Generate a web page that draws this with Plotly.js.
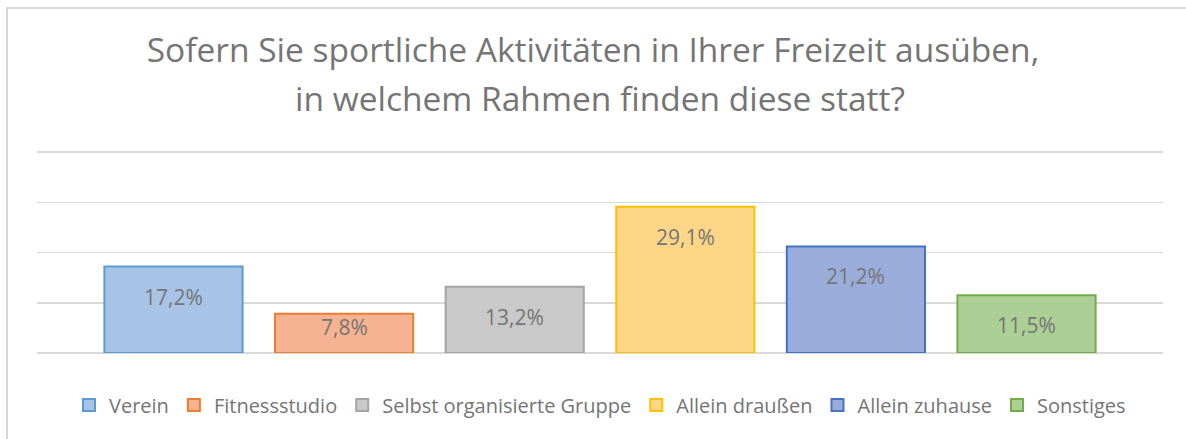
<!DOCTYPE html>
<html>
<head>
<meta charset="utf-8">
<script src="https://cdn.plot.ly/plotly-3.0.1.min.js"></script>
<style>
  html, body { margin: 0; padding: 0; background: #fff; overflow: hidden; }
  #chart { position: absolute; left: 0; top: 0; width: 1186px; height: 439px; }
  #frame { position: absolute; left: 6px; top: 7px; width: 1300px; height: 600px;
           border-left: 2px solid #d9d9d9; border-top: 2px solid #d9d9d9; pointer-events: none; }
</style>
</head>
<body>
<div id="chart"></div>
<div id="frame"></div>
<script>
const titleLine1 = 'Sofern Sie sportliche Aktivitäten in Ihrer Freizeit ausüben,';
const titleLine2 = 'in welchem Rahmen finden diese statt?';
const categories = ['Verein', 'Fitnessstudio', 'Selbst organisierte Gruppe', 'Allein draußen', 'Allein zuhause', 'Sonstiges'];
const values = [17.2, 7.8, 13.2, 29.1, 21.2, 11.5];
const gridValues = [0, 10, 20, 30, 40];
const fillColors = ['#a7c4e7', '#f5b391', '#c9c9c9', '#fed687', '#9aacda', '#accf96'];
const lineColors = ['#5b9bd5', '#ed7d31', '#a5a5a5', '#ffc000', '#4472c4', '#70ad47'];

const textColor = '#757575';
const fontFamily = '"Open Sans", "Noto Sans", sans-serif';

const plotBottom = 353;
const pxPerUnit = 201 / 40;
const yMax = 41;
const plotTop = Math.round(plotBottom - yMax * pxPerUnit);

function fmt(v) { return v.toFixed(1).replace('.', ',') + '%'; }

const traces = categories.map((c, i) => ({
  type: 'bar',
  name: c,
  x: [c],
  y: [values[i]],
  width: 0.81,
  marker: { color: fillColors[i], line: { color: lineColors[i], width: 2 } },
  hoverinfo: 'name+y'
}));

const annotations = categories.map((c, i) => {
  const barPx = values[i] * pxPerUnit;
  return {
    x: c, y: values[i], xref: 'x', yref: 'y',
    text: fmt(values[i]), showarrow: false,
    yanchor: 'middle', yshift: -Math.min(30, barPx - 26),
    font: { family: fontFamily, size: 21, color: textColor }
  };
});

annotations.push({
  xref: 'paper', yref: 'paper', x: 0.5, y: 1, yshift: plotTop - 98,
  xanchor: 'center', yanchor: 'middle',
  text: titleLine2, showarrow: false,
  font: { family: fontFamily, size: 33.5, color: textColor }
});

const layout = {
  width: 1186, height: 439,
  margin: { l: 37, r: 23, t: plotTop, b: 439 - plotBottom },
  paper_bgcolor: '#ffffff', plot_bgcolor: '#ffffff',
  barmode: 'overlay',
  title: {
    text: titleLine1,
    x: 0.5, xanchor: 'center',
    y: 1 - 50 / 439, yanchor: 'middle', yref: 'container',
    font: { family: fontFamily, size: 33.5, color: textColor }
  },
  xaxis: {
    type: 'category', categoryorder: 'array', categoryarray: categories,
    range: [-0.8, 5.8], showticklabels: false, showgrid: false, zeroline: false,
    showline: false, ticks: '', fixedrange: true
  },
  yaxis: {
    range: [0, yMax], tickvals: gridValues, showticklabels: false, showgrid: true,
    gridcolor: '#d9d9d9', gridwidth: 1.5, zeroline: true, zerolinecolor: '#d9d9d9',
    zerolinewidth: 1.5, showline: false, ticks: '', fixedrange: true
  },
  showlegend: true,
  legend: {
    orientation: 'h', x: 0.5, xanchor: 'center', y: -52 / (plotBottom - plotTop), yanchor: 'middle',
    font: { family: fontFamily, size: 20, color: textColor },
    traceorder: 'normal', bgcolor: 'rgba(0,0,0,0)'
  },
  annotations: annotations
};

Plotly.newPlot('chart', traces, layout, { displayModeBar: false, staticPlot: true });
</script>
</body>
</html>
